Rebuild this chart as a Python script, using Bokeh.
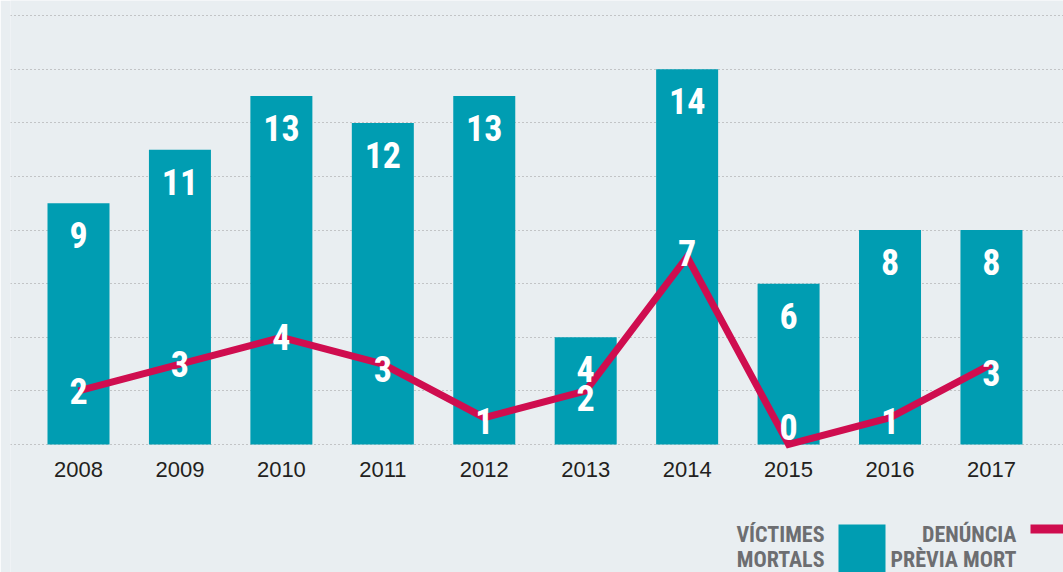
from bokeh.plotting import figure
from bokeh.models import Range1d, Grid, FixedTicker
from bokeh.core.properties import value
from bokeh.embed import file_html
from bokeh.resources import INLINE

# ---- data ----
years = ["2008", "2009", "2010", "2011", "2012", "2013", "2014", "2015", "2016", "2017"]
victims = [9, 11, 13, 12, 13, 4, 14, 6, 8, 8]          # VÍCTIMES MORTALS
reports = [2, 3, 4, 3, 1, 2, 7, 0, 1, 3]                # DENÚNCIA PRÈVIA MORT
legend_victims = ["VÍCTIMES", "MORTALS"]
legend_reports = ["DENÚNCIA", "PRÈVIA MORT"]
grid_ticks = [0, 2, 4, 6, 8, 10, 12, 14, 16]

# ---- style / layout ----
BG = "#e9eef1"
TEAL = "#009db2"
RED = "#cf0d4f"
GRID = "#9a9a9a"
LEG_TXT = "#6d6e71"
COND = "Roboto Condensed"
REG = "Liberation Sans"

# page-pixel -> data helpers (decoration placement only)
X0, DX, Y0, DY = 78.0, 101.44, 444.0, 26.8
def fx(px):
    return (px - X0) / DX
def fy(py):
    return (Y0 - py) / DY

# per-point nudges for the line value labels (data units)
line_label_dy = [0, 0, 0, -0.2, -0.11, -0.25, 0.15, 0.67, -0.11, -0.35]

idx = list(range(len(years)))

p = figure(width=1063, height=572,
           x_range=Range1d(fx(10), fx(1063)), y_range=Range1d(fy(572), fy(0)),
           output_backend="svg", toolbar_location=None,
           x_axis_type=None, y_axis_type=None,
           min_border_left=10, min_border_right=0, min_border_top=0, min_border_bottom=0,
           background_fill_color=BG, border_fill_color=BG, outline_line_color=None)

p.add_layout(Grid(dimension=1, ticker=FixedTicker(ticks=grid_ticks),
                  grid_line_color=GRID, grid_line_dash="1 3", grid_line_width=1))

p.vbar(x=idx, top=victims, bottom=0, width=62 / DX, fill_color=TEAL, line_color=None)
p.line(idx, reports, line_width=7, line_color=RED, line_join="miter")

# bar value labels
p.text(x=idx, y=[v - 32 / DY for v in victims], text=[str(v) for v in victims],
       text_align="center", text_baseline="middle", text_color="white",
       text_font=value(COND), text_font_style="bold", text_font_size="36px")

# line value labels
p.text(x=idx, y=[v + d for v, d in zip(reports, line_label_dy)], text=[str(v) for v in reports],
       text_align="center", text_baseline="middle", text_color="white",
       text_font=value(COND), text_font_style="bold", text_font_size="36px")

# year labels
p.text(x=idx, y=[fy(469)] * len(years), text=years,
       text_align="center", text_baseline="middle", text_color="#231f20",
       text_font=value(REG), text_font_size="22px")

# legend
p.text(x=[fx(824)] * 2, y=[fy(534), fy(559)], text=legend_victims,
       text_align="right", text_baseline="middle", text_color=LEG_TXT,
       text_font=value(COND), text_font_style="bold", text_font_size="22px")
p.quad(left=[fx(838)], right=[fx(885)], top=[fy(524)], bottom=[fy(580)],
       fill_color=TEAL, line_color=None)
p.text(x=[fx(1016)] * 2, y=[fy(534), fy(559)], text=legend_reports,
       text_align="right", text_baseline="middle", text_color=LEG_TXT,
       text_font=value(COND), text_font_style="bold", text_font_size="22px")
p.segment(x0=[fx(1030)], y0=[fy(528.5)], x1=[fx(1075)], y1=[fy(528.5)],
          line_color=RED, line_width=9, line_cap="butt")

open("out.html", "w").write(file_html(p, INLINE))
